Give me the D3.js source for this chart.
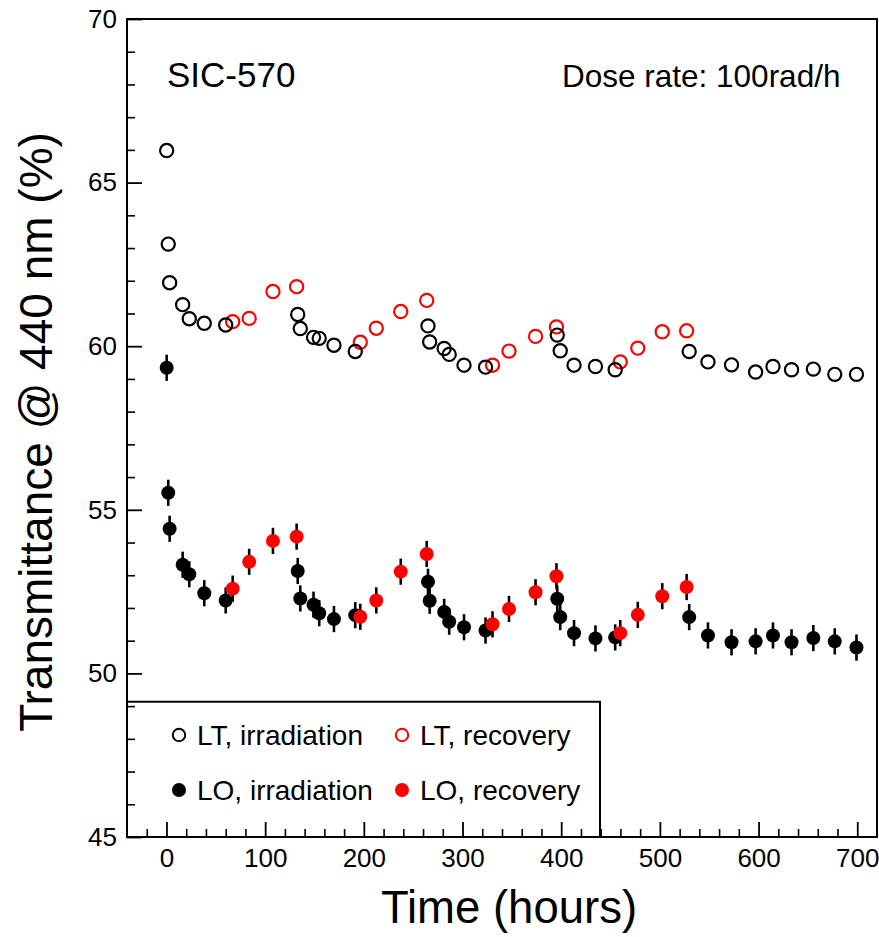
<!DOCTYPE html>
<html>
<head>
<meta charset="utf-8">
<script src="https://cdn.jsdelivr.net/npm/d3@7"></script>
<style>
  html, body { margin: 0; padding: 0; background: #fff; }
  svg { display: block; }
  text { font-family: "Liberation Sans", Arial, Helvetica, sans-serif; }
</style>
</head>
<body>
<svg id="chart" width="879" height="937"></svg>
<script>
// Irradiation periods: hours and transmittance (%) for LT and LO
const timeIrr = [0.2, 1.8, 3.2, 16.4, 23.1, 38.3, 60, 133, 135.6, 149, 154.8, 169.7, 191.3,
  265, 266.7, 281.4, 286.5, 301.5, 323.3, 396, 399, 413, 434.7, 454.7,
  529.7, 548.7, 572.6, 597, 614.6, 633.4, 655.5, 677.2, 699.2];
const ltIrr = [65.98, 63.12, 61.94, 61.27, 60.84, 60.70, 60.65, 60.97, 60.54, 60.27, 60.24, 60.03, 59.84,
  60.62, 60.13, 59.93, 59.75, 59.42, 59.36, 60.34, 59.86, 59.42, 59.38, 59.28,
  59.84, 59.52, 59.43, 59.21, 59.38, 59.28, 59.30, 59.14, 59.14];
const loIrr = [59.34, 55.52, 54.42, 53.32, 53.03, 52.45, 52.23, 53.13, 52.29, 52.10, 51.84, 51.66, 51.78,
  52.80, 52.22, 51.88, 51.58, 51.41, 51.31, 52.28, 51.72, 51.23, 51.07, 51.10,
  51.72, 51.16, 50.95, 50.98, 51.16, 50.95, 51.08, 50.98, 50.79];

// Recovery periods
const timeRec = [67.1, 83.8, 107.9, 131.9, 196.4, 212.6, 237.4, 263.7,
  330.4, 347.1, 374, 395.2, 459.8, 477.6, 502.4, 527.1];
const ltRec = [60.75, 60.85, 61.67, 61.82, 60.12, 60.55, 61.06, 61.40,
  59.42, 59.85, 60.30, 60.59, 59.52, 59.94, 60.44, 60.47];
const loRec = [52.59, 53.41, 54.05, 54.18, 51.73, 52.23, 53.11, 53.65,
  51.50, 51.97, 52.48, 52.97, 51.23, 51.79, 52.36, 52.64];

// LO uncertainty (%)
const loError = 0.4;

const xTicks = [0, 100, 200, 300, 400, 500, 600, 700];
const yTicks = [45, 50, 55, 60, 65, 70];
const legendLabels = ["LT, irradiation", "LT, recovery", "LO, irradiation", "LO, recovery"];

const svg = d3.select("#chart");
const plotLeft = 127, plotTop = 19, plotRight = 877, plotBottom = 837;

const x = d3.scaleLinear().domain([-40, 720]).range([plotLeft, plotRight]);
const y = d3.scaleLinear().domain([45, 70]).range([plotBottom, plotTop]);

const fontFamily = "'Liberation Sans', Arial, sans-serif";

// Minor ticks
svg.append("g")
  .attr("transform", `translate(${plotLeft},0)`)
  .call(d3.axisLeft(y).tickValues(d3.range(46, 70, 1).filter(v => v % 5 !== 0)).tickSize(-8).tickFormat(""))
  .call(g => g.select(".domain").remove())
  .call(g => g.selectAll("line").attr("stroke", "#000").attr("stroke-width", 1.6));
svg.append("g")
  .attr("transform", `translate(0,${plotBottom})`)
  .call(d3.axisBottom(x).tickValues(d3.range(-20, 720, 20).filter(v => v % 100 !== 0)).tickSize(-8).tickFormat(""))
  .call(g => g.select(".domain").remove())
  .call(g => g.selectAll("line").attr("stroke", "#000").attr("stroke-width", 1.6));

// Major ticks with labels
svg.append("g")
  .attr("transform", `translate(${plotLeft},0)`)
  .call(d3.axisLeft(y).tickValues(yTicks).tickSize(-15).tickPadding(10).tickFormat(d3.format("d")))
  .call(g => g.select(".domain").remove())
  .call(g => g.selectAll("line").attr("stroke", "#000").attr("stroke-width", 1.8))
  .call(g => g.selectAll("text").attr("font-size", 26).attr("fill", "#000").attr("font-family", fontFamily));
svg.append("g")
  .attr("transform", `translate(0,${plotBottom})`)
  .call(d3.axisBottom(x).tickValues(xTicks).tickSize(-15).tickPadding(12).tickFormat(d3.format("d")))
  .call(g => g.select(".domain").remove())
  .call(g => g.selectAll("line").attr("stroke", "#000").attr("stroke-width", 1.8))
  .call(g => g.selectAll("text").attr("font-size", 26).attr("fill", "#000").attr("font-family", fontFamily));

// Frame
svg.append("rect")
  .attr("x", plotLeft).attr("y", plotTop)
  .attr("width", plotRight - plotLeft).attr("height", plotBottom - plotTop)
  .attr("fill", "none").attr("stroke", "#000").attr("stroke-width", 2);

// Legend box (top and right edges)
const legTop = y(49.13), legRight = 600;
svg.append("path")
  .attr("d", `M${plotLeft},${legTop}H${legRight}V${plotBottom}`)
  .attr("fill", "none").attr("stroke", "#000").attr("stroke-width", 2);

const irr = timeIrr.map((t, i) => ({ t, lt: ltIrr[i], lo: loIrr[i] }));
const rec = timeRec.map((t, i) => ({ t, lt: ltRec[i], lo: loRec[i] }));

const rOpen = 6.6, rFill = 7;

// LO error bars
svg.append("g").selectAll("line")
  .data(irr.concat(rec))
  .join("line")
  .attr("x1", d => x(d.t)).attr("x2", d => x(d.t))
  .attr("y1", d => y(d.lo - loError)).attr("y2", d => y(d.lo + loError))
  .attr("stroke", "#000").attr("stroke-width", 2.6);

// LO markers
svg.append("g").selectAll("circle")
  .data(irr).join("circle")
  .attr("cx", d => x(d.t)).attr("cy", d => y(d.lo)).attr("r", rFill)
  .attr("fill", "#000");
svg.append("g").selectAll("circle")
  .data(rec).join("circle")
  .attr("cx", d => x(d.t)).attr("cy", d => y(d.lo)).attr("r", rFill)
  .attr("fill", "#ff0000");

// LT markers
svg.append("g").selectAll("circle")
  .data(rec).join("circle")
  .attr("cx", d => x(d.t)).attr("cy", d => y(d.lt)).attr("r", rOpen)
  .attr("fill", "none").attr("stroke", "#ff0000").attr("stroke-width", 2.2);
svg.append("g").selectAll("circle")
  .data(irr).join("circle")
  .attr("cx", d => x(d.t)).attr("cy", d => y(d.lt)).attr("r", rOpen)
  .attr("fill", "none").attr("stroke", "#000").attr("stroke-width", 2.2);

// Annotations
svg.append("text")
  .attr("x", 167).attr("y", 87)
  .attr("font-size", 35).attr("fill", "#000")
  .text("SIC-570");
svg.append("text")
  .attr("x", 562).attr("y", 87)
  .attr("font-size", 31.5).attr("fill", "#000")
  .text("Dose rate: 100rad/h");

// Legend entries
const legendItems = [
  { label: legendLabels[0], color: "#000", filled: false, lx: 179, ly: 735 },
  { label: legendLabels[1], color: "#ff0000", filled: false, lx: 402, ly: 735 },
  { label: legendLabels[2], color: "#000", filled: true, lx: 179, ly: 790 },
  { label: legendLabels[3], color: "#ff0000", filled: true, lx: 402, ly: 790 }
];
const leg = svg.append("g").selectAll("g").data(legendItems).join("g");
leg.append("circle")
  .attr("cx", d => d.lx).attr("cy", d => d.ly)
  .attr("r", d => d.filled ? 7 : 6.2)
  .attr("fill", d => d.filled ? d.color : "none")
  .attr("stroke", d => d.filled ? "none" : d.color)
  .attr("stroke-width", 2);
leg.append("text")
  .attr("x", d => d.lx + 18).attr("y", d => d.ly + 10)
  .attr("font-size", 28).attr("fill", "#000")
  .text(d => d.label);

// Axis titles
svg.append("text")
  .attr("transform", "translate(52,432) rotate(-90)")
  .attr("text-anchor", "middle")
  .attr("font-size", 46).attr("fill", "#000")
  .text("Transmittance @ 440 nm (%)");
svg.append("text")
  .attr("x", 509).attr("y", 923)
  .attr("text-anchor", "middle")
  .attr("font-size", 45.5).attr("fill", "#000")
  .text("Time (hours)");
</script>
</body>
</html>
